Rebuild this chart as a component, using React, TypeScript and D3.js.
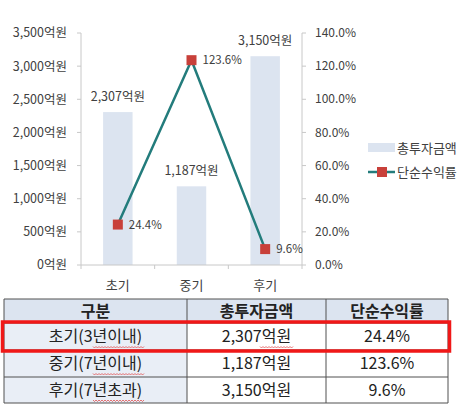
import React from 'react';
import * as d3 from 'd3';

const categories = ['초기', '중기', '후기'];
const investment = [2307, 1187, 3150];
const returnRate = [24.4, 123.6, 9.6];
const leftTicks = [0, 500, 1000, 1500, 2000, 2500, 3000, 3500];
const rightTicks = [0, 20, 40, 60, 80, 100, 120, 140];
const legendLabels = ['총투자금액', '단순수익률'];
const tableHeader = ['구분', '총투자금액', '단순수익률'];
const tablePeriods = ['초기(3년이내)', '중기(7년이내)', '후기(7년초과)'];

const W = 466;
const H = 413;
const FONT = '"Noto Sans CJK KR", "Noto Sans", sans-serif';

const fmt = d3.format(',');

const App: React.FC = () => {
  const plot = { left: 81, right: 302, top: 33, bottom: 265 };

  const x = d3.scaleBand<string>()
    .domain(categories)
    .range([plot.left, plot.right])
    .paddingInner(0.6)
    .paddingOuter(0.3);
  const yL = d3.scaleLinear().domain([0, 3500]).range([plot.bottom, plot.top]);
  const yR = d3.scaleLinear().domain([0, 140]).range([plot.bottom, plot.top]);
  const band = (plot.right - plot.left) / categories.length;
  const cx = (c: string) => (x(c) ?? 0) + x.bandwidth() / 2;

  const line = d3.line<number>()
    .x((_, i) => cx(categories[i]))
    .y(d => yR(d));

  // table geometry
  const tLeft = 4, tRight = 448;
  const colX = [tLeft, 187, 326, tRight];
  const rowY = [299, 323, 350, 377, 403];
  const rows = tablePeriods.map((p, i) => [p, `${fmt(investment[i])}억원`, `${returnRate[i].toFixed(1)}%`]);

  const wave = (x0: number, x1: number, y0: number) => {
    let d = `M${x0},${y0}`;
    for (let xx = x0; xx < x1; xx += 3) d += ` l1.5,1.5 l1.5,-1.5`;
    return d;
  };

  return (
    <svg width={W} height={H} style={{ position: 'absolute', left: 0, top: 0, background: '#fff' }} fontFamily={FONT}>
      {/* bars */}
      {categories.map((c, i) => (
        <g key={c}>
          <rect x={x(c)} y={yL(investment[i])} width={x.bandwidth()} height={plot.bottom - yL(investment[i])} fill="#dce4f0" />
          <text x={cx(c)} y={yL(investment[i]) - 11} textAnchor="middle" fontSize={12.5} fill="#404040">{fmt(investment[i])}억원</text>
        </g>
      ))}

      {/* left axis */}
      <line x1={plot.left} x2={plot.left} y1={plot.top} y2={plot.bottom} stroke="#c8c8c8" />
      {leftTicks.map(t => (
        <g key={t}>
          <line x1={plot.left - 4} x2={plot.left} y1={yL(t)} y2={yL(t)} stroke="#c8c8c8" />
          <text x={plot.left - 14} y={yL(t)} dy="0.35em" textAnchor="end" fontSize={12.5} fill="#404040">{fmt(t)}억원</text>
        </g>
      ))}

      {/* right axis */}
      <line x1={plot.right} x2={plot.right} y1={plot.top} y2={plot.bottom} stroke="#c8c8c8" />
      {rightTicks.map(t => (
        <g key={t}>
          <line x1={plot.right} x2={plot.right + 4} y1={yR(t)} y2={yR(t)} stroke="#c8c8c8" />
          <text x={plot.right + 13} y={yR(t)} dy="0.35em" fontSize={12} fill="#404040">{t.toFixed(1)}%</text>
        </g>
      ))}

      {/* x axis */}
      <line x1={plot.left} x2={plot.right} y1={plot.bottom} y2={plot.bottom} stroke="#c8c8c8" />
      {d3.range(categories.length + 1).map(i => (
        <line key={i} x1={plot.left + band * i} x2={plot.left + band * i} y1={plot.bottom} y2={plot.bottom + 4} stroke="#c8c8c8" />
      ))}
      {categories.map(c => (
        <text key={c} x={cx(c)} y={plot.bottom + 20} dy="0.35em" textAnchor="middle" fontSize={13} fill="#404040">{c}</text>
      ))}

      {/* line series */}
      <path d={line(returnRate) ?? ''} fill="none" stroke="#237c7c" strokeWidth={2.5} />
      {returnRate.map((v, i) => (
        <g key={i}>
          <rect x={cx(categories[i]) - 5} y={yR(v) - 5} width={10} height={10} fill="#c8403a" />
          <text x={cx(categories[i]) + 11} y={yR(v)} dy="0.35em" fontSize={11.5} fill="#404040">{v.toFixed(1)}%</text>
        </g>
      ))}

      {/* legend */}
      <rect x={368} y={143} width={27} height={9} fill="#dce4f0" />
      <text x={397} y={148} dy="0.35em" fontSize={13} fill="#404040">{legendLabels[0]}</text>
      <line x1={368} x2={395} y1={172} y2={172} stroke="#237c7c" strokeWidth={2.5} />
      <rect x={377} y={167} width={10} height={10} fill="#c8403a" />
      <text x={397} y={172} dy="0.35em" fontSize={13} fill="#404040">{legendLabels[1]}</text>

      {/* table */}
      <rect x={tLeft} y={rowY[0]} width={tRight - tLeft} height={rowY[1] - rowY[0]} fill="#dce4f0" />
      <rect x={tLeft} y={rowY[1]} width={colX[1] - tLeft} height={rowY[4] - rowY[1]} fill="#e9eef6" />
      {rowY.map((yy, i) => (
        <line key={`h${i}`} x1={tLeft} x2={tRight} y1={yy} y2={yy} stroke="#505050" strokeWidth={1} />
      ))}
      {colX.map((xx, i) => (
        <line key={`v${i}`} x1={xx} x2={xx} y1={rowY[0]} y2={rowY[4]} stroke="#505050" strokeWidth={1} />
      ))}
      {tableHeader.map((h, j) => (
        <text key={h} x={(colX[j] + colX[j + 1]) / 2} y={(rowY[0] + rowY[1]) / 2} dy="0.35em" textAnchor="middle" fontSize={16} fontWeight="bold" fill="#222">{h}</text>
      ))}
      {rows.map((r, i) => r.map((cell, j) => (
        <text key={`${i}-${j}`} x={(colX[j] + colX[j + 1]) / 2} y={(rowY[i + 1] + rowY[i + 2]) / 2} dy="0.35em" textAnchor="middle" fontSize={16} fill="#222">{cell}</text>
      )))}
      {/* spell-check squiggles */}
      {tablePeriods.map((_, i) => (
        <path key={`w${i}`} d={wave(93, 142, (rowY[i + 1] + rowY[i + 2]) / 2 + 10)} fill="none" stroke="#e05050" strokeWidth={0.8} />
      ))}
      <path d={wave(260, 292, (rowY[1] + rowY[2]) / 2 + 10)} fill="none" stroke="#e05050" strokeWidth={0.8} />

      {/* highlight box */}
      <rect x={2.5} y={rowY[1] - 1} width={tRight - 1} height={rowY[2] - rowY[1] + 2} fill="none" stroke="#f01818" strokeWidth={3.5} />
    </svg>
  );
};

export default App;
